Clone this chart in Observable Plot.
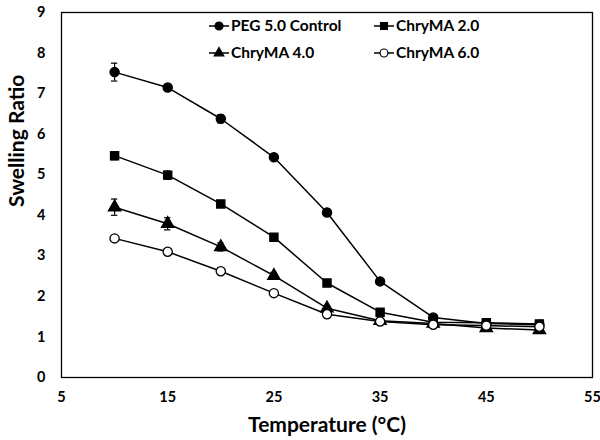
<!DOCTYPE html>
<html><head><meta charset="utf-8">
<script src="https://cdn.jsdelivr.net/npm/d3@7"></script>
<script src="https://cdn.jsdelivr.net/npm/@observablehq/plot@0.6"></script>
<style>
body{margin:0;background:#fff;}
#wrap{position:relative;width:600px;height:440px;font-family:Lato,"Open Sans",sans-serif;}
#legend{position:absolute;left:0;top:0;}
</style></head>
<body><div id="wrap"></div>
<script>
const temps = [10,15,20,25,30,35,40,45,50];
const seriesNames = ["PEG 5.0 Control","ChryMA 2.0","ChryMA 4.0","ChryMA 6.0"];
const peg = [7.53,7.15,6.38,5.43,4.07,2.37,1.48,1.33,1.30];
const peg_err = [0.22,0.05,0.10,0.04,0.04,0.04,0.05,0.04,0.04];
const c2 = [5.47,4.99,4.28,3.46,2.33,1.61,1.36,1.35,1.32];
const c2_err = [0.10,0.10,0.05,0.04,0.04,0.04,0.04,0.04,0.04];
const c4 = [4.20,3.79,3.22,2.51,1.71,1.40,1.33,1.22,1.17];
const c4_err = [0.20,0.15,0.10,0.08,0.05,0.05,0.04,0.05,0.05];
const c6 = [3.43,3.10,2.62,2.08,1.56,1.38,1.30,1.28,1.25];
const c6_err = [0.05,0.05,0.04,0.04,0.04,0.04,0.04,0.04,0.04];
const xTicks = [5,15,25,35,45,55];
const yTicks = [0,1,2,3,4,5,6,7,8,9];
const xTitle = "Temperature (°C)";
const yTitle = "Swelling Ratio";

const vals = [peg,c2,c4,c6], errs=[peg_err,c2_err,c4_err,c6_err];
const symbols = ["circle","square","triangle","circle"];
const fills = ["black","black","black","white"];
const data = [];
seriesNames.forEach((s,i)=>temps.forEach((t,j)=>data.push({series:s,idx:i,t,v:vals[i][j],e:errs[i][j]})));

const marks = [Plot.frame({stroke:"black",strokeWidth:1.3})];
seriesNames.forEach((s,i)=>{
  const d = data.filter(r=>r.idx===i);
  marks.push(Plot.line(d,{x:"t",y:"v",stroke:"black",strokeWidth:1.5}));
  marks.push(Plot.ruleX(d,{x:"t",y1:r=>r.v-r.e,y2:r=>r.v+r.e,stroke:"black",strokeWidth:1.2}));
  marks.push(Plot.ruleY(d,{y:r=>r.v-r.e,x1:r=>r.t-0.3,x2:r=>r.t+0.3,stroke:"black",strokeWidth:1.2}));
  marks.push(Plot.ruleY(d,{y:r=>r.v+r.e,x1:r=>r.t-0.3,x2:r=>r.t+0.3,stroke:"black",strokeWidth:1.2}));
  marks.push(Plot.dot(d,{x:"t",y:"v",symbol:()=>symbols[i],r:4.6,fill:fills[i],stroke:"black",strokeWidth:1.3}));
});
marks.push(Plot.text([xTitle],{text:d=>d,frameAnchor:"bottom",lineAnchor:"bottom",dy:54,fontSize:21,fontWeight:"bold",fill:"black"}));
marks.push(Plot.text([yTitle],{text:d=>d,frameAnchor:"left",rotate:-90,lineAnchor:"middle",dx:-44,dy:12,fontSize:21,fontWeight:"bold",fill:"black"}));

const chart = Plot.plot({
  width:600,height:440,
  marginLeft:61,marginRight:8,marginTop:12,marginBottom:63,
  style:{fontFamily:"Lato, 'Open Sans', sans-serif",fontSize:"14.5px",fontWeight:"bold",color:"black",background:"white"},
  x:{domain:[5,55],ticks:xTicks,tickSize:0,tickPadding:14,label:null,tickFormat:d=>d},
  y:{domain:[0,9],ticks:yTicks,tickSize:0,tickPadding:16,label:null,tickFormat:d=>d},
  symbol:{domain:["circle","square","triangle"],range:["circle","square","triangle"]},
  marks
});
document.getElementById("wrap").appendChild(chart);

// legend overlay
const lg=d3.create("svg").attr("id","legend").attr("width",600).attr("height",70)
  .style("font-family","Lato, 'Open Sans', sans-serif").style("font-weight","bold").style("font-size","15.5px");
const pos=[[209,26],[374,26],[209,53],[374,53]];
const symGen={circle:d3.symbolCircle,square:d3.symbolSquare,triangle:d3.symbolTriangle};
seriesNames.forEach((s,i)=>{
  const [x,y]=pos[i];
  const g=lg.append("g").attr("transform",`translate(${x},${y})`);
  g.append("line").attr("x1",0).attr("x2",20).attr("stroke","black").attr("stroke-width",1.5);
  g.append("path").attr("transform","translate(10,0)").attr("d",d3.symbol(symGen[symbols[i]],i===2?40:(i===1?48:50))()).attr("fill",fills[i]).attr("stroke","black").attr("stroke-width",1.2);
  g.append("text").attr("x",22).attr("dy","0.35em").text(s);
});
document.getElementById("wrap").appendChild(lg.node());
</script></body></html>
